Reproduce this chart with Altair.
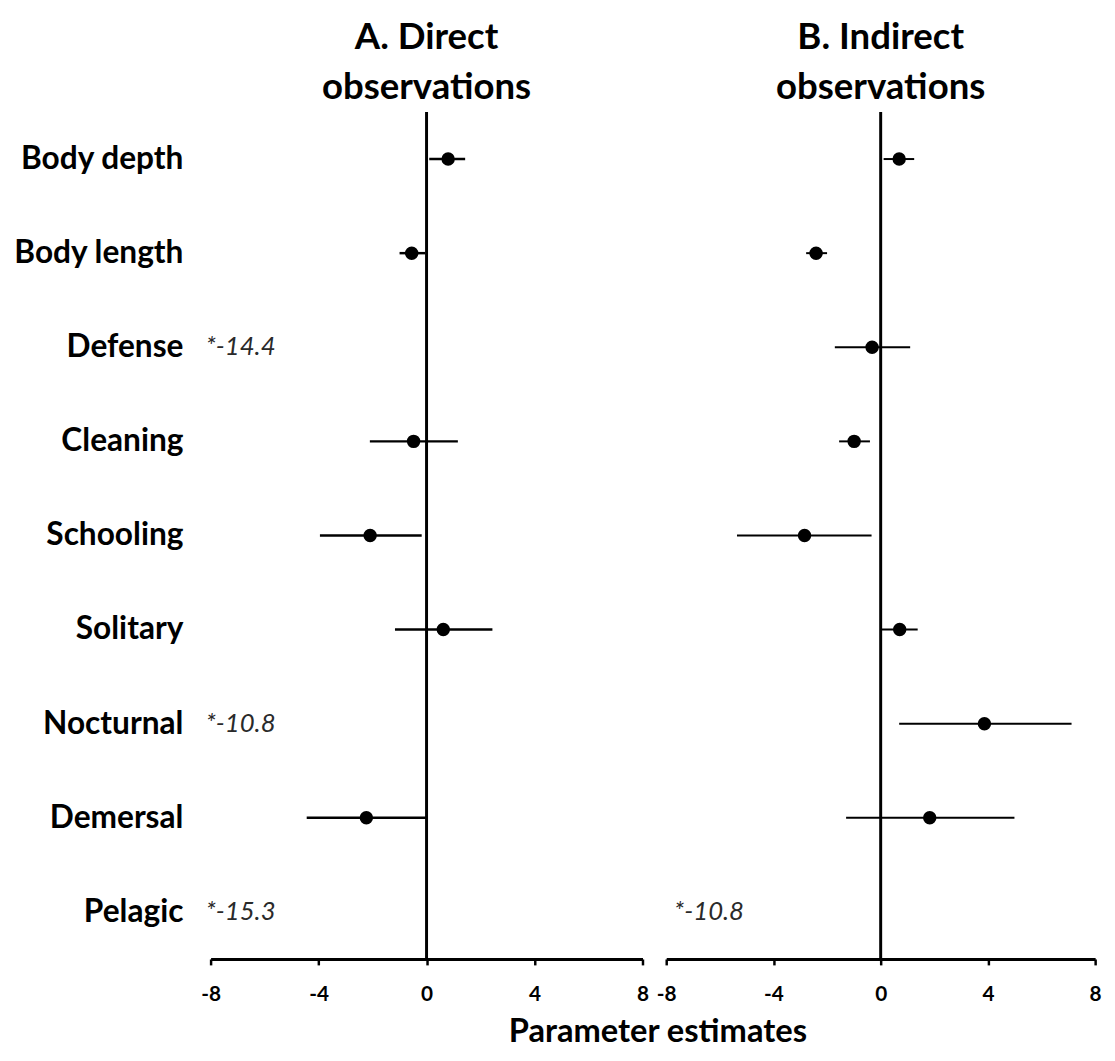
import altair as alt
import pandas as pd

categories = ["Body depth", "Body length", "Defense", "Cleaning", "Schooling",
              "Solitary", "Nocturnal", "Demersal", "Pelagic"]

# Panel A: direct observations
a_est = [0.80, -0.55, None, -0.48, -2.09, 0.62, None, -2.23, None]
a_lo = [0.10, -1.00, None, -2.10, -3.95, -1.17, None, -4.44, None]
a_hi = [1.43, -0.05, None, 1.16, -0.18, 2.44, None, 0.00, None]
a_note = [None, None, "*-14.4", None, None, None, "*-10.8", None, "*-15.3"]

# Panel B: indirect observations
b_est = [0.69, -2.41, -0.32, -0.99, -2.84, 0.71, 3.87, 1.83, None]
b_lo = [0.11, -2.78, -1.71, -1.55, -5.36, 0.03, 0.69, -1.29, None]
b_hi = [1.25, -2.00, 1.10, -0.40, -0.34, 1.38, 7.12, 4.99, None]
b_note = [None, None, None, None, None, None, None, None, "*-10.8"]

tick_values = [-8, -4, 0, 4, 8]

FONT = "Lato"
H = 857


def panel(est, lo, hi, note, title_lines, show_y, note_dx, bar_w, width):
    df = pd.DataFrame({"cat": categories, "est": est, "lo": lo, "hi": hi, "note": note})
    xscale = alt.Scale(domain=[-8, 8], nice=False, zero=False)
    yaxis = alt.Axis(
        title=None, domain=False, ticks=False, grid=False,
        labelFontSize=32, labelFontWeight="bold", labelColor="black",
        labelFont=FONT, labelPadding=28, labelLimit=400,
    ) if show_y else None
    y = alt.Y("cat:N", sort=categories, scale=alt.Scale(domain=categories), axis=yaxis)
    xaxis = alt.Axis(
        title=None, values=tick_values, grid=False, domainWidth=3, domainColor="black",
        tickColor="black", tickWidth=2.5, tickSize=6, labelFontSize=21,
        labelFontWeight="bold", labelColor="black", labelFont=FONT,
        labelPadding=19, labelFlush=False,
        labelExpr="datum.value < 0 ? '-' + abs(datum.value) : '' + datum.value",
    )
    base = alt.Chart(df)
    zero = base.mark_rule(color="black", strokeWidth=3).encode(
        x=alt.datum(0, scale=xscale, axis=xaxis)
    ).transform_filter("datum.cat == 'Body depth'")
    bars = base.transform_filter("isValid(datum.est)").mark_rule(
        color="black", strokeWidth=bar_w
    ).encode(x=alt.X("lo:Q", scale=xscale, axis=xaxis), x2="hi:Q", y=y)
    pts = base.transform_filter("isValid(datum.est)").mark_circle(
        color="black", size=185, opacity=1
    ).encode(x=alt.X("est:Q", scale=xscale, axis=xaxis), y=y)
    notes = base.transform_filter("isValid(datum.note)").mark_text(
        align="left", baseline="middle", fontStyle="italic", fontSize=26,
        font=FONT, color="#2a2a2a", dx=note_dx
    ).encode(x=alt.datum(-8, scale=xscale, axis=xaxis), y=y, text="note:N")
    return alt.layer(bars, zero, pts, notes).properties(
        width=width, height=H,
        title=alt.TitleParams(title_lines, fontSize=37, font=FONT, fontWeight="bold",
                              color="black", anchor="middle", lineHeight=50, offset=4),
    )


pa = panel(a_est, a_lo, a_hi, a_note, ["A. Direct", "observations"], True, -5, 2.5, 437)
pb = panel(b_est, b_lo, b_hi, b_note, ["B. Indirect", "observations"], False, 8, 2, 434)

chart = alt.hconcat(pa, pb, spacing=6).properties(
    title=alt.TitleParams("Parameter estimates", orient="bottom", anchor="middle",
                          fontSize=33, font=FONT, fontWeight="bold", color="black",
                          dx=102, offset=12),
).configure(background="white").configure_view(stroke="transparent", strokeWidth=0)

chart.save("out.html", embed_options={"renderer": "svg", "actions": False})
